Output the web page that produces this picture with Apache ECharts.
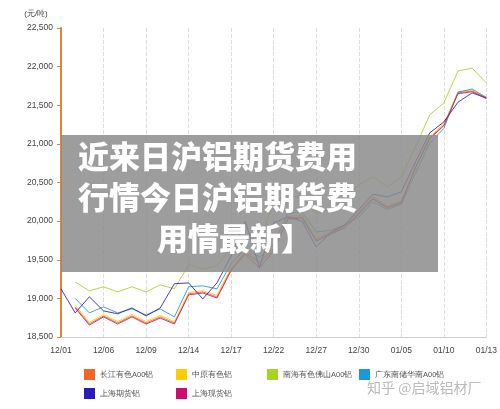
<!DOCTYPE html>
<html><head><meta charset="utf-8">
<script src="https://cdn.jsdelivr.net/npm/echarts@6/dist/echarts.min.js"></script>
<style>html,body{margin:0;padding:0;background:#fff}#c{width:500px;height:409px}</style>
</head><body><div id="c"></div>
<script>
const dates = ['12/01','12/02','12/03','12/06','12/07','12/08','12/09','12/10','12/13','12/14','12/15','12/16','12/17','12/20','12/21','12/22','12/23','12/24','12/27','12/28','12/29','12/30','12/31','01/04','01/05','01/06','01/07','01/10','01/11','01/12','01/13'];
const tickLabels = {0:'12/01',3:'12/06',6:'12/09',9:'12/14',12:'12/17',15:'12/22',18:'12/27',21:'12/30',24:'01/05',27:'01/10',30:'01/13'};
const seriesNames = ['长江有色A00铝','中原有色铝','南海有色佛山A00铝','广东南储华南A00铝','上海期货铝','上海现货铝'];
const colors = ['#f26522','#ffcc00','#a8d520','#1b9ad6','#2b1bbf','#cc0f6f'];
const changjiang = [null,18890,18670,18773,18683,18773,18683,18760,18683,19058,19084,19020,19380,19590,19460,19630,20040,20055,19757,19847,19925,20106,20300,20184,20249,20700,21077,21245,21660,21685,21594];
const zhongyuan = [null,18910,18690,18790,18700,18790,18700,18780,18700,19075,19100,19040,19400,19610,19480,19650,20060,20075,19780,19865,19945,20125,20320,20200,20265,20715,21090,21260,21675,21700,21605];
const nanhai = [null,19213,19097,19150,19084,19150,19084,19175,19123,19433,19380,19420,19650,19800,19700,20250,20300,20330,20100,20150,20300,20470,20572,20443,20572,20960,21374,21530,21944,21980,21790];
const guangdong = [null,19000,18812,18890,18812,18864,18786,18864,18760,19150,19163,19123,19450,19650,19530,19700,20100,20120,19860,19880,19950,20050,20250,20150,20220,20620,21010,21200,21670,21710,21600];
const shfutures = [19123,18812,19020,18838,18800,18877,18773,18877,19190,19200,18993,19200,19550,20000,19400,19977,20055,20000,19666,19847,19950,20150,20350,20313,20378,20766,21141,21284,21540,21660,21594];
const shspot = [null,18875,18655,18760,18668,18760,18668,18745,18668,19045,19070,19005,19360,19575,19394,19615,20025,20040,19740,19830,19910,20090,20285,20170,20235,20690,21065,21235,21650,21675,21585];
const allData = [changjiang,zhongyuan,nanhai,guangdong,shfutures,shspot];
const yTicks = [18500,19000,19500,20000,20500,21000,21500,22000,22500];

const chart = echarts.init(document.getElementById('c'));
const legendPos = [[84,369],[176,369],[267,369],[359,369],[84,388],[176,388]];
chart.setOption({
  animation:false,
  color: colors,
  grid:{left:61,right:12,top:28,bottom:72},
  legend: seriesNames.map((n,i)=>({data:[n],left:legendPos[i][0],top:legendPos[i][1],padding:0,icon:'rect',itemWidth:11,itemHeight:11,itemGap:4,textStyle:{fontSize:7.5,color:'#555'}})),
  xAxis:{type:'category',data:dates,boundaryGap:false,
    axisLine:{lineStyle:{color:'#ccc'}},axisTick:{show:false},
    axisLabel:{interval:0,fontSize:8.5,color:'#444',margin:9,formatter:(v,i)=>tickLabels[i]||''},
    splitLine:{show:true,interval:(i)=>i%3===0,lineStyle:{color:'#ddd',type:'dashed'}}},
  yAxis:{type:'value',min:yTicks[0],max:yTicks[yTicks.length-1],interval:500,
    name:'(元/吨)',nameLocation:'end',nameGap:10,nameTextStyle:{fontSize:8,color:'#444',padding:[0,0,0,-50]},
    axisLine:{show:true,lineStyle:{color:'#e8822f',width:2}},axisTick:{show:true,length:4,lineStyle:{color:'#e8822f'}},
    axisLabel:{fontSize:8.5,color:'#444',margin:8,formatter:v=>v.toLocaleString('en-US')},
    splitLine:{show:false}},
  series: seriesNames.map((n,i)=>({name:n,type:'line',data:allData[i],symbol:'none',lineStyle:{width:1,opacity:0.85},z:2})),
  graphic:[
    {type:'rect',shape:{x:61,y:135,width:377,height:137},style:{fill:'rgba(140,140,140,0.85)'},z:100},
    {type:'text',left:78,top:141,style:{text:'近来日沪铝期货费用',fill:'#fff',font:'900 31px "Noto Sans CJK SC"'},z:101},
    {type:'text',left:78,top:182,style:{text:'行情今日沪铝期货费',fill:'#fff',font:'900 31px "Noto Sans CJK SC"'},z:101},
    {type:'text',left:157,top:223,style:{text:'用情最新】',fill:'#fff',font:'900 31px "Noto Sans CJK SC"'},z:101},
    {type:'text',left:367,top:381,style:{text:'知乎 @启域铝材厂',fill:'#bbb',font:'14px "Noto Sans CJK SC"'},z:101}
  ]
});
</script></body></html>
